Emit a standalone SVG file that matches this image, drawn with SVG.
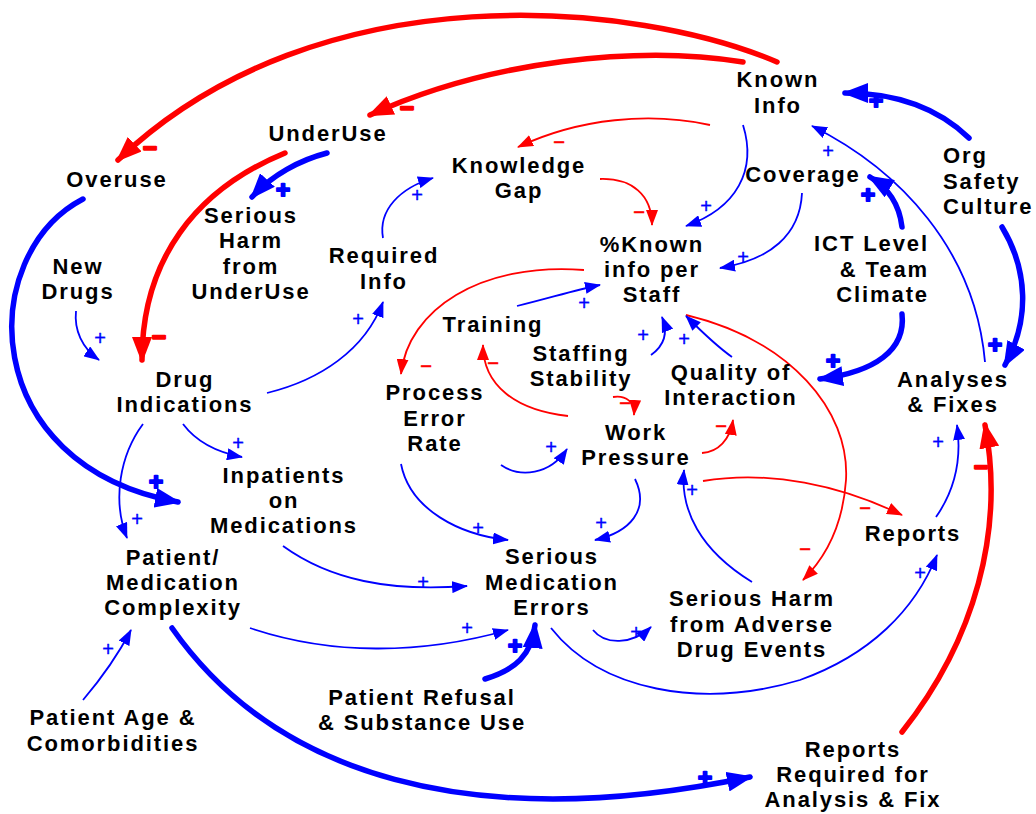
<svg xmlns="http://www.w3.org/2000/svg" width="1036" height="814" viewBox="0 0 1036 814">
<style>
.n{font-family:"Liberation Sans",Arial,sans-serif;font-weight:bold;font-size:22px;letter-spacing:1.9px;fill:#000;text-anchor:middle}
.ns{text-anchor:start}
.ne{text-anchor:end}
.TR,.TB,.R,.B{fill:none}
.TR{stroke:#f00;stroke-width:5.5;stroke-linecap:round;marker-end:url(#mTR)}
.TB{stroke:#00f;stroke-width:5.5;stroke-linecap:round;marker-end:url(#mTB)}
.R{stroke:#f00;stroke-width:1.8;marker-end:url(#mR)}
.B{stroke:#00f;stroke-width:1.8;marker-end:url(#mB)}
.sp{font-family:"Liberation Sans",Arial,sans-serif;font-size:20px;fill:#00f;stroke:#00f;stroke-width:0.4;text-anchor:middle}
.sm{font-family:"Liberation Sans",Arial,sans-serif;font-size:20px;fill:#f00;stroke:#f00;stroke-width:0.6;text-anchor:middle}
.bp{font-family:"Liberation Sans",Arial,sans-serif;font-weight:bold;font-size:24px;fill:#00f;stroke:#00f;stroke-width:2.2;stroke-linejoin:round;text-anchor:middle}
.bm{font-family:"Liberation Sans",Arial,sans-serif;font-weight:bold;font-size:24px;fill:#f00;stroke:#f00;stroke-width:2.2;stroke-linejoin:round;text-anchor:middle}
</style>
<defs>
<marker id="mR" markerUnits="userSpaceOnUse" markerWidth="16" markerHeight="12" refX="15" refY="6" orient="auto"><path d="M0,0 L16,6 L0,12 Z" fill="#f00"/></marker>
<marker id="mB" markerUnits="userSpaceOnUse" markerWidth="16" markerHeight="12" refX="15" refY="6" orient="auto"><path d="M0,0 L16,6 L0,12 Z" fill="#00f"/></marker>
<marker id="mTR" markerUnits="userSpaceOnUse" markerWidth="26" markerHeight="20" refX="23" refY="10" orient="auto"><path d="M0,0 L26,10 L0,20 Z" fill="#f00"/></marker>
<marker id="mTB" markerUnits="userSpaceOnUse" markerWidth="26" markerHeight="20" refX="23" refY="10" orient="auto"><path d="M0,0 L26,10 L0,20 Z" fill="#00f"/></marker>
</defs>
<rect width="1036" height="814" fill="#fff"/>
<g id="connectors">
<path class="TR" d="M777 62 C640 3,320 -32,118 160"/>
<path class="TR" d="M743 62 C640 45,490 60,370 115"/>
<path class="TR" d="M285 153 C195 190,142 260,142 360"/>
<path class="TR" d="M902 732 C975 640,1005 530,985 425"/>
<path class="TB" d="M969 138 C940 110,900 93,845 93"/>
<path class="TB" d="M1002 227 C1028 270,1030 320,1005 365"/>
<path class="TB" d="M902 227 C900 210,892 190,870 177"/>
<path class="TB" d="M902 314 C906 350,875 372,820 379"/>
<path class="TB" d="M83 199 C-24 255,-24 465,178 502"/>
<path class="TB" d="M327 153 C300 160,272 175,252 197"/>
<path class="TB" d="M485 679 C515 670,532 655,535 625"/>
<path class="TB" d="M172 628 C275 775,470 835,750 777"/>
<path class="R" d="M710 125 C650 112,580 118,518 147"/>
<path class="R" d="M600 179 C632 178,652 195,652 225"/>
<path class="R" d="M584 270 C480 262,408 310,401 374"/>
<path class="R" d="M568 416 C515 410,483 385,483 345"/>
<path class="R" d="M613 397 C626 395,635 402,634 415"/>
<path class="R" d="M702 453 C718 452,730 440,733 420"/>
<path class="R" d="M686 315 C790 340,850 410,846 480 C843 525,825 558,803 580"/>
<path class="R" d="M703 481 C770 470,840 485,902 515"/>
<path class="B" d="M743 125 C757 170,737 208,686 226"/>
<path class="B" d="M802 193 C800 235,770 260,720 268"/>
<path class="B" d="M985 362 C975 250,900 170,812 126"/>
<path class="B" d="M936 517 C955 490,962 460,957 425"/>
<path class="B" d="M551 628 C600 690,700 710,800 680 C870 655,915 610,937 555"/>
<path class="B" d="M593 630 C605 645,632 645,651 627"/>
<path class="B" d="M752 582 C700 550,680 510,684 470"/>
<path class="B" d="M635 479 C650 510,630 532,595 540"/>
<path class="B" d="M401 464 C410 510,460 535,508 540"/>
<path class="B" d="M501 465 C520 478,550 475,567 449"/>
<path class="B" d="M283 546 C330 580,390 592,467 586"/>
<path class="B" d="M250 628 C330 655,420 655,508 630"/>
<path class="B" d="M183 424 C195 440,215 452,242 457"/>
<path class="B" d="M143 424 C120 455,112 500,127 538"/>
<path class="B" d="M267 393 C320 380,365 350,383 302"/>
<path class="B" d="M76 311 C74 330,82 348,99 360"/>
<path class="B" d="M383 238 C378 210,400 188,433 178"/>
<path class="B" d="M83 700 C100 680,118 655,131 630"/>
<path class="B" d="M517 306 C550 298,575 290,600 285"/>
<path class="B" d="M651 355 C665 345,668 332,662 317"/>
<path class="B" d="M732 357 C715 345,700 330,686 316"/>
</g>
<g id="polarity">
<text class="bm" x="150" y="156">−</text>
<text class="bm" x="407" y="116">−</text>
<text class="bm" x="159" y="345">−</text>
<text class="bm" x="981" y="475">−</text>
<text class="bp" x="876" y="109">+</text>
<text class="bp" x="995" y="353">+</text>
<text class="bp" x="868" y="203">+</text>
<text class="bp" x="833" y="369">+</text>
<text class="bp" x="156" y="490">+</text>
<text class="bp" x="283" y="198">+</text>
<text class="bp" x="515" y="654">+</text>
<text class="bp" x="705" y="786">+</text>
<text class="sm" x="559" y="149">−</text>
<text class="sm" x="639" y="219">−</text>
<text class="sm" x="426" y="373">−</text>
<text class="sm" x="493" y="370">−</text>
<text class="sm" x="625" y="410">−</text>
<text class="sm" x="721" y="433">−</text>
<text class="sm" x="805" y="556">−</text>
<text class="sm" x="865" y="515">−</text>
<text class="sp" x="706" y="213">+</text>
<text class="sp" x="743" y="264">+</text>
<text class="sp" x="828" y="158">+</text>
<text class="sp" x="938" y="449">+</text>
<text class="sp" x="920" y="580">+</text>
<text class="sp" x="636" y="639">+</text>
<text class="sp" x="692" y="497">+</text>
<text class="sp" x="601" y="530">+</text>
<text class="sp" x="478" y="535">+</text>
<text class="sp" x="551" y="454">+</text>
<text class="sp" x="423" y="589">+</text>
<text class="sp" x="467" y="635">+</text>
<text class="sp" x="238" y="450">+</text>
<text class="sp" x="137" y="526">+</text>
<text class="sp" x="358" y="326">+</text>
<text class="sp" x="100" y="345">+</text>
<text class="sp" x="417" y="202">+</text>
<text class="sp" x="108" y="656">+</text>
<text class="sp" x="584" y="310">+</text>
<text class="sp" x="643" y="342">+</text>
<text class="sp" x="684" y="346">+</text>
</g>
<g id="known-info"><text class="n" x="778" y="87">Known<tspan x="778" y="113">Info</tspan></text></g>
<g id="underuse"><text class="n" x="328" y="141">UnderUse</text></g>
<g id="overuse"><text class="n" x="117" y="187">Overuse</text></g>
<g id="knowledge-gap"><text class="n" x="519" y="173">Knowledge<tspan x="519" y="198">Gap</tspan></text></g>
<g id="coverage"><text class="n" x="803" y="182">Coverage</text></g>
<g id="org-safety-culture"><text class="n ns" x="943" y="163">Org<tspan x="943" y="189">Safety</tspan><tspan x="943" y="214">Culture</tspan></text></g>
<g id="pct-known"><text class="n" x="652" y="252">%Known<tspan x="652" y="277">info per</tspan><tspan x="652" y="302">Staff</tspan></text></g>
<g id="ict-level"><text class="n ne" x="929" y="251">ICT Level<tspan x="929" y="277">&amp; Team</tspan><tspan x="929" y="302">Climate</tspan></text></g>
<g id="new-drugs"><text class="n" x="78" y="274">New<tspan x="78" y="299">Drugs</tspan></text></g>
<g id="serious-harm-underuse"><text class="n" x="251" y="223">Serious<tspan x="251" y="248">Harm</tspan><tspan x="251" y="274">from</tspan><tspan x="251" y="299">UnderUse</tspan></text></g>
<g id="required-info"><text class="n" x="384" y="263">Required<tspan x="384" y="289">Info</tspan></text></g>
<g id="training"><text class="n" x="493" y="332">Training</text></g>
<g id="staffing-stability"><text class="n" x="581" y="361">Staffing<tspan x="581" y="386">Stability</tspan></text></g>
<g id="process-error-rate"><text class="n" x="435" y="400">Process<tspan x="435" y="426">Error</tspan><tspan x="435" y="451">Rate</tspan></text></g>
<g id="quality-interaction"><text class="n" x="731" y="380">Quality of<tspan x="731" y="405">Interaction</tspan></text></g>
<g id="work-pressure"><text class="n" x="636" y="440">Work<tspan x="636" y="465">Pressure</tspan></text></g>
<g id="analyses-fixes"><text class="n" x="953" y="387">Analyses<tspan x="953" y="412">&amp; Fixes</tspan></text></g>
<g id="reports"><text class="n" x="913" y="541">Reports</text></g>
<g id="drug-indications"><text class="n" x="185" y="387">Drug<tspan x="185" y="412">Indications</tspan></text></g>
<g id="inpatients"><text class="n" x="284" y="483">Inpatients<tspan x="284" y="508">on</tspan><tspan x="284" y="533">Medications</tspan></text></g>
<g id="complexity"><text class="n" x="173" y="565">Patient/<tspan x="173" y="590">Medication</tspan><tspan x="173" y="615">Complexity</tspan></text></g>
<g id="serious-med-errors"><text class="n" x="552" y="564">Serious<tspan x="552" y="590">Medication</tspan><tspan x="552" y="615">Errors</tspan></text></g>
<g id="serious-harm-ade"><text class="n" x="752" y="606">Serious Harm<tspan x="752" y="632">from Adverse</tspan><tspan x="752" y="657">Drug Events</tspan></text></g>
<g id="age-comorbidities"><text class="n" x="113" y="725">Patient Age &amp;<tspan x="113" y="751">Comorbidities</tspan></text></g>
<g id="refusal-substance"><text class="n" x="422" y="705">Patient Refusal<tspan x="422" y="730">&amp; Substance Use</tspan></text></g>
<g id="reports-required"><text class="n" x="853" y="757">Reports<tspan x="853" y="782">Required for</tspan><tspan x="853" y="807">Analysis &amp; Fix</tspan></text></g>
</svg>
